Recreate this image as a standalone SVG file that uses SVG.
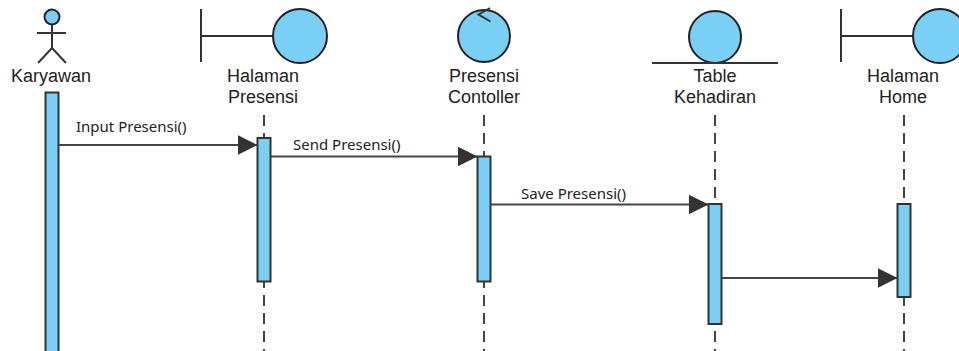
<svg xmlns="http://www.w3.org/2000/svg" width="959" height="351" viewBox="0 0 959 351">
<style>
.icon{fill:#79CFF4;stroke:#222;stroke-width:2}
.ln{fill:none;stroke:#333;stroke-width:2}
.name{font-family:"Liberation Sans",Arial,sans-serif;font-size:18px;fill:#222;text-anchor:middle}
.life{stroke:#444;stroke-width:2;stroke-dasharray:11 7;fill:none}
.bar{fill:#79CFF4;stroke:#333;stroke-width:2}
.msg{stroke:#444;stroke-width:2;fill:none;marker-end:url(#arr)}
.lbl{font-family:"Noto Sans","Open Sans",sans-serif;font-size:15px;fill:#222}
</style>
<defs>
<marker id="arr" markerWidth="20" markerHeight="20" refX="20" refY="10" orient="auto" markerUnits="userSpaceOnUse">
<path d="M0,0 L20,10 L0,20 Z" fill="#333"/>
</marker>
</defs>
<rect width="959" height="351" fill="#fff"/>
<g id="karyawan">
<circle class="icon" cx="52" cy="17" r="7.5"/>
<line class="ln" x1="52" y1="25" x2="52" y2="48"/>
<line class="ln" x1="37" y1="33" x2="66" y2="33"/>
<polyline class="ln" points="38,63 52,48 66,63"/>
<text class="name" x="51" y="82">Karyawan</text>
<rect class="bar" x="45.5" y="92.5" width="13" height="270"/>
</g>
<g id="halaman-presensi">
<line class="ln" x1="201" y1="9" x2="201" y2="62"/>
<line class="ln" x1="201" y1="36" x2="273" y2="36"/>
<circle class="icon" cx="300" cy="36" r="27"/>
<text class="name" x="263" y="82">Halaman</text>
<text class="name" x="263" y="103">Presensi</text>
<line class="life" x1="264" y1="115" x2="264" y2="351"/>
<rect class="bar" x="257.5" y="138" width="13" height="143.5"/>
</g>
<g id="presensi-controller">
<circle class="icon" cx="484" cy="36" r="26"/>
<polyline class="ln" points="490,8 478.5,14.5 490.5,21.5"/>
<text class="name" x="484" y="82">Presensi</text>
<text class="name" x="484" y="103">Contoller</text>
<line class="life" x1="484" y1="115" x2="484" y2="351"/>
<rect class="bar" x="477.5" y="156.5" width="13" height="125"/>
</g>
<g id="table-kehadiran">
<circle class="icon" cx="715" cy="37" r="26"/>
<line class="ln" x1="652" y1="63" x2="778" y2="63"/>
<text class="name" x="715" y="82">Table</text>
<text class="name" x="715" y="103">Kehadiran</text>
<line class="life" x1="715" y1="115" x2="715" y2="351"/>
<rect class="bar" x="708.5" y="204" width="13" height="120"/>
</g>
<g id="halaman-home">
<line class="ln" x1="841" y1="9" x2="841" y2="62"/>
<line class="ln" x1="841" y1="36" x2="913" y2="36"/>
<circle class="icon" cx="940" cy="36" r="27"/>
<text class="name" x="903" y="82">Halaman</text>
<text class="name" x="903" y="103">Home</text>
<line class="life" x1="904" y1="115" x2="904" y2="351"/>
<rect class="bar" x="897.5" y="204" width="13" height="93"/>
</g>
<g id="connectors">
<line class="msg" x1="58.5" y1="145" x2="257.5" y2="145"/>
<text class="lbl" x="76" y="132">Input Presensi()</text>
<line class="msg" x1="270.5" y1="156.5" x2="477.5" y2="156.5"/>
<text class="lbl" x="293" y="150">Send Presensi()</text>
<line class="msg" x1="490.5" y1="204.5" x2="708.5" y2="204.5"/>
<text class="lbl" x="521" y="199">Save Presensi()</text>
<line class="msg" x1="721.5" y1="278" x2="897.5" y2="278"/>
</g>
</svg>
